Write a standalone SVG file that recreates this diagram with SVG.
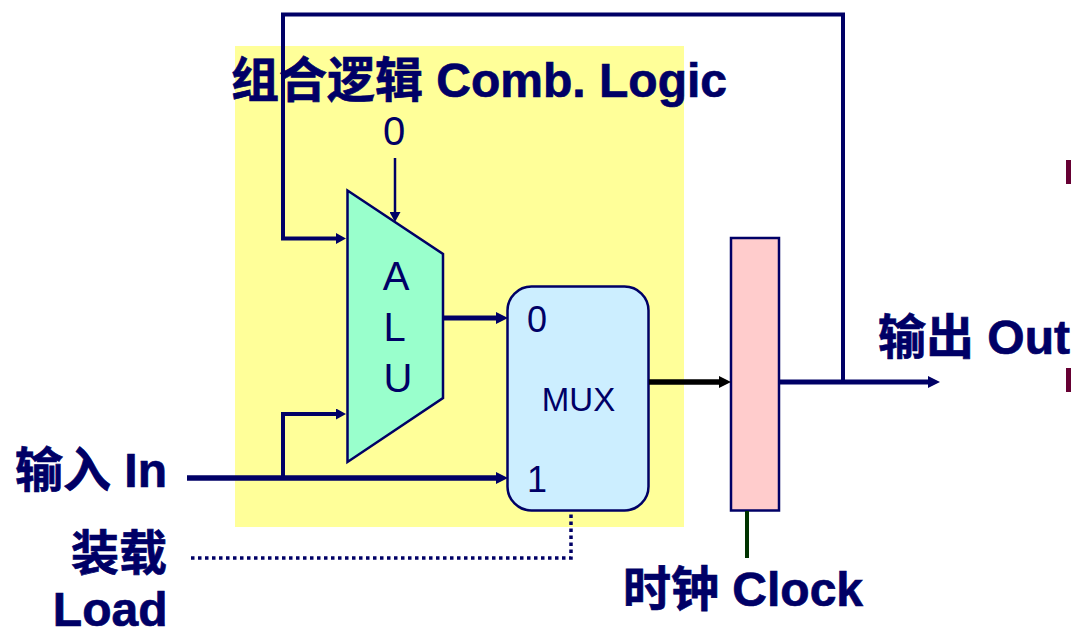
<svg xmlns="http://www.w3.org/2000/svg" width="1071" height="628" viewBox="0 0 1071 628">
<style>
text{font-family:"Liberation Sans","Noto Sans CJK SC",sans-serif;fill:#000066}
.b{font-weight:700;font-size:48px;stroke:#000066;stroke-width:.7px}
.r{font-size:40px}
.w{fill:none;stroke:#000066;stroke-linejoin:miter}
</style>
<defs>
<marker id="a" markerUnits="userSpaceOnUse" markerWidth="12" markerHeight="12" refX="0" refY="6" orient="auto"><path d="M0 0L12 6L0 12Z" fill="#000066"/></marker>
<marker id="s" markerUnits="userSpaceOnUse" markerWidth="10" markerHeight="11" refX="0" refY="5.500" orient="auto"><path d="M0 0L10 5.500L0 11Z" fill="#000066"/></marker>
<marker id="k" markerUnits="userSpaceOnUse" markerWidth="12" markerHeight="12" refX="0" refY="6" orient="auto"><path d="M0 0L12 6L0 12Z" fill="#000"/></marker>
</defs>
<rect id="logic-bg" x="235" y="46" width="449" height="481" fill="#ffff99"/>
<rect x="1066" y="160" width="5" height="24" fill="#660033"/>
<rect x="1066" y="368" width="5" height="24" fill="#660033"/>
<g id="alu"><path d="M347.500 190.500L443 254V398L347.500 462Z" fill="#99ffcc" stroke="#000066" stroke-width="2.500"/>
<text class="r" x="396" y="290" text-anchor="middle">A</text><text class="r" x="394.500" y="341" text-anchor="middle">L</text><text class="r" x="398" y="392" text-anchor="middle">U</text></g>
<g id="mux"><rect x="507.500" y="286.500" width="141" height="224" rx="24" fill="#cceeff" stroke="#000066" stroke-width="2.500"/>
<text x="578.500" y="411" font-size="33" text-anchor="middle">MUX</text>
<text x="527" y="332" font-size="36">0</text><text x="527" y="492" font-size="36">1</text></g>
<g id="register"><rect x="731" y="238" width="48" height="272.500" fill="#ffcccc" stroke="#000066" stroke-width="2.500"/></g>
<g id="connectors">
<path class="w" stroke-width="4" d="M843 382V14.500H283V238.500H336" marker-end="url(#s)"/>
<path class="w" stroke-width="2.500" d="M395 158V212" marker-end="url(#s)"/>
<path class="w" stroke-width="4" d="M283 478V414H336" marker-end="url(#s)"/>
<path class="w" stroke-width="5.500" d="M187 478H496" marker-end="url(#a)"/>
<path class="w" stroke-width="5" d="M443 318H496" marker-end="url(#a)"/>
<path fill="none" stroke="#000" stroke-width="5.500" d="M649 382H719" marker-end="url(#k)"/>
<path class="w" stroke-width="5" d="M780 382H928" marker-end="url(#a)"/>
<path class="w" stroke-width="3.500" stroke-dasharray="3.500 3.500" d="M191 558H571V511"/>
<path fill="none" stroke="#003300" stroke-width="4" d="M747 511V558"/>
</g>
<text class="b" x="231" y="97">组合逻辑 Comb. Logic</text>
<text x="394" y="145" font-size="40" text-anchor="middle">0</text>
<text class="b" x="15" y="487">输入 In</text>
<text class="b" x="167" y="570" text-anchor="end">装载</text>
<text class="b" x="167.500" y="626" text-anchor="end">Load</text>
<text class="b" x="878" y="354">输出 Out</text>
<text class="b" x="623" y="606">时钟 Clock</text>
</svg>
